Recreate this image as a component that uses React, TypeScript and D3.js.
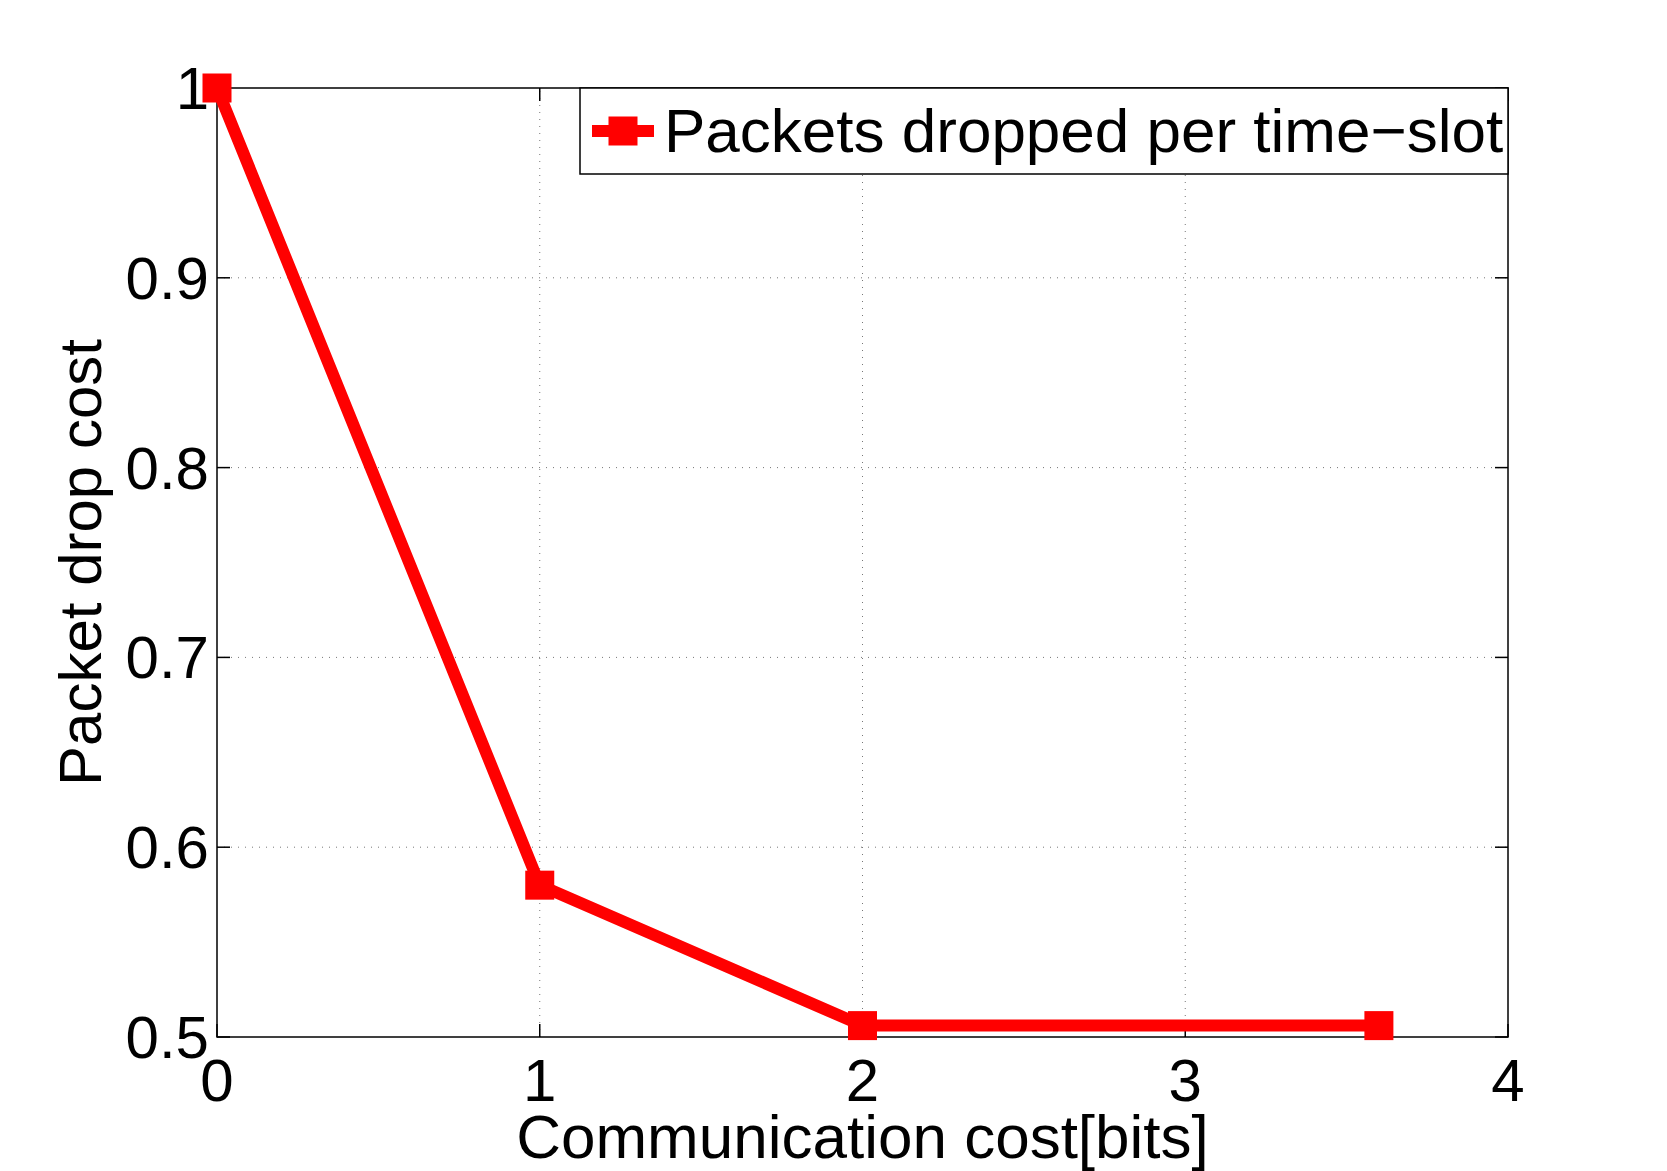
import React, { useEffect, useRef } from "react";
import * as d3 from "d3";

// data
const bits = [0, 1, 2, 3.6];
const dropCost = [1.0, 0.58, 0.506, 0.506];
const xTicks = [0, 1, 2, 3, 4];
const yTicks = [0.5, 0.6, 0.7, 0.8, 0.9, 1];
const yTickLabels = ["0.5", "0.6", "0.7", "0.8", "0.9", "1"];
const seriesName = "Packets dropped per time\u2212slot";

const W = 1667;
const H = 1171;
const margin = { top: 88, right: 159, bottom: 134, left: 217 };
const FONT = "'Liberation Sans', Arial, Helvetica, sans-serif";

export default function App() {
  const ref = useRef<SVGSVGElement>(null);

  useEffect(() => {
    const svg = d3.select(ref.current);
    svg.selectAll("*").remove();

    const x = d3.scaleLinear().domain([0, 4]).range([margin.left, W - margin.right]);
    const y = d3.scaleLinear().domain([0.5, 1]).range([H - margin.bottom, margin.top]);
    const [x0, x1] = x.range();
    const [y0, y1] = y.range();

    svg.append("rect").attr("width", W).attr("height", H).attr("fill", "#fff");

    // ==========================
    // Grid
    // ==========================
    const grid = svg.append("g").attr("stroke", "#777").attr("stroke-width", 1).attr("stroke-dasharray", "1,6");
    xTicks.slice(1, -1).forEach(t => {
      grid.append("line").attr("x1", x(t)).attr("x2", x(t)).attr("y1", y0).attr("y2", y1);
    });
    yTicks.slice(1, -1).forEach(t => {
      grid.append("line").attr("x1", x0).attr("x2", x1).attr("y1", y(t)).attr("y2", y(t));
    });

    // ==========================
    // Ticks (inside, all four sides)
    // ==========================
    const tl = 13;
    const ticks = svg.append("g").attr("stroke", "#000").attr("stroke-width", 1.5);
    xTicks.forEach(t => {
      ticks.append("line").attr("x1", x(t)).attr("x2", x(t)).attr("y1", y0).attr("y2", y0 - tl);
      ticks.append("line").attr("x1", x(t)).attr("x2", x(t)).attr("y1", y1).attr("y2", y1 + tl);
    });
    yTicks.forEach(t => {
      ticks.append("line").attr("x1", x0).attr("x2", x0 + tl).attr("y1", y(t)).attr("y2", y(t));
      ticks.append("line").attr("x1", x1).attr("x2", x1 - tl).attr("y1", y(t)).attr("y2", y(t));
    });

    // box
    svg.append("rect")
      .attr("x", x0).attr("y", y1)
      .attr("width", x1 - x0).attr("height", y0 - y1)
      .attr("fill", "none").attr("stroke", "#000").attr("stroke-width", 1.5);

    // tick labels
    svg.append("g").selectAll("text")
      .data(xTicks).enter().append("text")
      .attr("x", d => x(d)).attr("y", y0 + 64)
      .attr("text-anchor", "middle")
      .attr("font-family", FONT).attr("font-size", 60)
      .text(d => String(d));

    svg.append("g").selectAll("text")
      .data(yTicks).enter().append("text")
      .attr("x", x0 - 8).attr("y", d => y(d) + 21)
      .attr("text-anchor", "end")
      .attr("font-family", FONT).attr("font-size", 60)
      .text((d, i) => yTickLabels[i]);

    // axis labels
    svg.append("text")
      .attr("x", (x0 + x1) / 2).attr("y", 1158)
      .attr("text-anchor", "middle")
      .attr("font-family", FONT).attr("font-size", 62)
      .text("Communication cost[bits]");

    svg.append("text")
      .attr("transform", `translate(101,${(y0 + y1) / 2}) rotate(-90)`)
      .attr("text-anchor", "middle")
      .attr("font-family", FONT).attr("font-size", 60)
      .text("Packet drop cost");

    // ==========================
    // Series
    // ==========================
    const pts = bits.map((b, i) => [x(b), y(dropCost[i])] as [number, number]);
    svg.append("path")
      .attr("d", d3.line()(pts))
      .attr("fill", "none")
      .attr("stroke", "#ff0000")
      .attr("stroke-width", 12)
      .attr("stroke-linejoin", "miter");

    const ms = 29;
    svg.append("g").selectAll("rect")
      .data(pts).enter().append("rect")
      .attr("x", d => d[0] - ms / 2).attr("y", d => d[1] - ms / 2)
      .attr("width", ms).attr("height", ms)
      .attr("fill", "#ff0000");

    // ==========================
    // Legend
    // ==========================
    const lg = svg.append("g");
    lg.append("rect")
      .attr("x", 580).attr("y", y1)
      .attr("width", x1 - 580).attr("height", 174 - y1)
      .attr("fill", "#fff").attr("stroke", "#000").attr("stroke-width", 1.5);
    lg.append("line")
      .attr("x1", 592).attr("x2", 654).attr("y1", 131).attr("y2", 131)
      .attr("stroke", "#ff0000").attr("stroke-width", 12);
    lg.append("rect")
      .attr("x", 623 - ms / 2).attr("y", 131 - ms / 2)
      .attr("width", ms).attr("height", ms)
      .attr("fill", "#ff0000");
    lg.append("text")
      .attr("x", 664).attr("y", 152)
      .attr("font-family", FONT).attr("font-size", 62)
      .text(seriesName);
  }, []);

  return (
    <svg
      ref={ref}
      width={W}
      height={H}
      style={{ position: "absolute", left: 0, top: 0 }}
    />
  );
}
